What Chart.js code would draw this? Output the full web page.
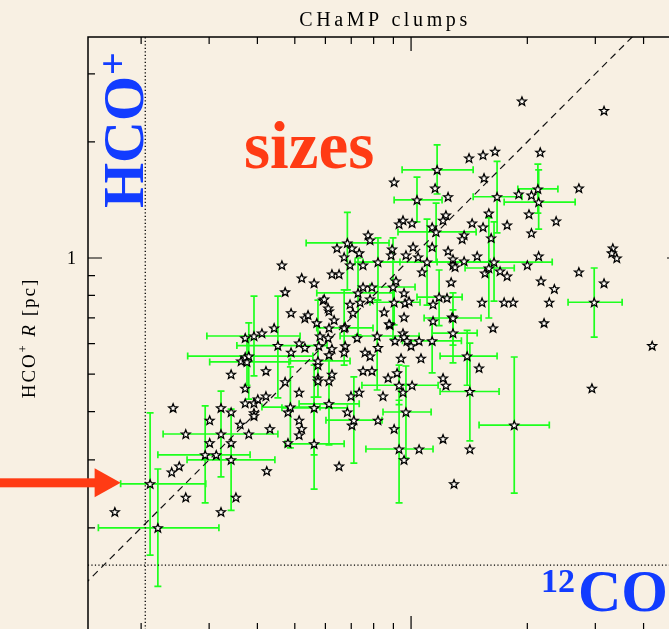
<!DOCTYPE html>
<html>
<head>
<meta charset="utf-8">
<title>CHaMP clumps</title>
<script src="https://cdn.jsdelivr.net/npm/chart.js@4.4.1/dist/chart.umd.min.js"></script>
<style>
  html, body { margin: 0; padding: 0; background: #f8f0e3; overflow: hidden; }
  #wrap { width: 669px; height: 629px; overflow: hidden; position: relative; }
  canvas { display: block; }
</style>
</head>
<body>
<div id="wrap"><canvas id="clumps" width="720" height="660"></canvas></div>
<script>
// 12CO radius (x) vs HCO+ radius (y) of the clumps, in pc
const coR = [
  0.171, 0.240, 0.251, 0.261, 0.242, 0.261, 0.380, 0.301, 0.322, 0.342,
  0.372, 0.421, 0.372, 0.392, 0.401, 0.392, 0.392, 0.361, 0.431, 0.301,
  0.342, 0.313, 0.423, 0.352, 0.322, 0.480, 0.480, 0.342, 0.363, 0.372,
  0.421, 0.372, 0.411, 0.442, 0.472, 0.489, 0.513, 0.531, 0.513, 0.472,
  0.463, 0.521, 0.561, 0.489, 0.531, 0.541, 0.592, 0.613, 0.852, 0.959,
  0.882, 1.140, 1.277, 0.613, 0.581, 0.610, 0.725, 0.953, 0.959, 0.909,
  0.976, 1.000, 1.049, 0.577, 0.624, 0.675, 0.671, 0.613, 0.821, 0.760,
  0.783, 0.942, 1.061, 0.574, 0.751, 0.792, 0.920, 0.872, 1.210, 1.231,
  0.624, 0.613, 0.574, 0.574, 1.006, 0.953, 0.846, 0.734, 0.699, 0.684,
  0.821, 0.513, 0.703, 0.521, 0.513, 0.904, 1.210, 1.049, 0.959, 0.651,
  1.292, 1.413, 1.536, 0.904, 1.154, 1.545, 1.247, 1.231, 1.210, 0.953,
  0.931, 1.006, 1.134, 1.439, 1.372, 1.356, 0.774, 0.783, 0.643, 0.703,
  0.671, 0.734, 0.695, 0.751, 0.893, 0.888, 0.970, 1.012, 1.043, 1.134,
  1.247, 1.284, 1.372, 1.284, 1.300, 1.068, 0.624, 0.651, 0.914, 1.270,
  0.751, 0.792, 0.959, 0.596, 0.783, 0.738, 0.695, 0.965, 0.988, 1.239,
  1.140, 0.610, 0.707, 0.632, 0.877, 0.675, 0.570, 1.937, 3.160, 1.650,
  2.160, 1.900, 2.050, 2.720, 1.590, 2.020, 2.375, 1.536, 1.773, 2.050,
  1.612, 1.483, 2.140, 2.000, 1.554, 1.700, 1.773, 3.330, 3.310, 3.410,
  2.720, 2.170, 2.350, 3.160, 1.527, 1.742, 1.838, 2.280, 1.630, 2.210,
  4.210, 1.500, 2.940, 1.420
];
const hcoR = [
  0.220, 0.279, 0.289, 0.240, 0.409, 0.350, 0.350, 0.380, 0.409, 0.399,
  0.460, 0.439, 0.421, 0.421, 0.431, 0.397, 0.390, 0.371, 0.361, 0.332,
  0.332, 0.309, 0.281, 0.240, 0.220, 0.332, 0.399, 0.500, 0.541, 0.554,
  0.510, 0.621, 0.639, 0.659, 0.478, 0.570, 0.602, 0.586, 0.449, 0.817,
  0.959, 0.888, 0.861, 0.721, 0.699, 0.712, 0.778, 0.729, 0.725, 0.703,
  0.671, 0.687, 0.703, 0.659, 0.628, 0.621, 0.621, 0.639, 0.624, 0.610,
  0.610, 0.592, 0.610, 0.592, 0.582, 0.592, 0.570, 0.561, 0.586, 0.570,
  0.557, 0.550, 0.550, 0.528, 0.510, 0.510, 0.504, 0.489, 0.489, 0.468,
  0.500, 0.480, 0.489, 0.480, 0.468, 0.449, 0.439, 0.449, 0.439, 0.399,
  0.380, 0.380, 0.369, 0.361, 0.348, 0.361, 0.340, 0.320, 0.300, 0.289,
  0.260, 1.816, 1.849, 1.573, 1.518, 1.612, 1.441, 1.292, 1.253, 1.253,
  1.225, 1.232, 1.203, 1.232, 1.147, 1.120, 1.147, 1.113, 1.061, 1.061,
  1.006, 1.031, 0.959, 0.959, 1.055, 1.018, 1.018, 1.068, 1.006, 1.068,
  1.043, 0.994, 0.982, 0.959, 0.948, 0.920, 0.909, 0.909, 0.872, 0.866,
  0.841, 0.841, 0.812, 0.783, 0.783, 0.768, 0.759, 0.764, 0.773, 0.788,
  0.759, 0.742, 0.721, 0.691, 0.675, 0.663, 0.679, 2.550, 2.410, 1.890,
  1.880, 1.465, 1.456, 1.518, 1.307, 1.300, 1.247, 1.203, 1.218, 1.161,
  1.127, 1.012, 1.012, 0.959, 0.914, 0.925, 0.898, 1.061, 1.031, 1.000,
  0.920, 0.872, 0.832, 0.861, 0.768, 0.768, 0.768, 0.768, 0.659, 0.679,
  0.593, 0.519, 0.460, 0.320
];

// clumps with measured uncertainties: centre, then low/high bounds on each axis
const errCo = [
  0.211, 0.221, 0.293, 0.322, 0.342, 0.392, 0.452, 0.380, 0.376, 1.168,
  1.036, 1.161, 0.684, 1.670, 2.130, 2.140, 1.640, 1.590, 2.980, 1.850,
  1.420, 1.397, 0.931, 0.970, 0.711, 0.561, 0.561, 0.613, 0.821, 1.100,
  0.729, 0.898, 1.182, 1.284, 0.671, 1.134, 1.284, 0.487, 0.931, 0.904,
  0.574, 0.817
];
const errHco = [
  0.260, 0.200, 0.309, 0.350, 0.300, 0.628, 0.593, 0.557, 0.538, 1.692,
  1.414, 1.168, 1.094, 1.441, 1.510, 1.396, 0.976, 0.942, 0.768, 0.369,
  0.451, 0.557, 0.320, 0.399, 0.380, 0.330, 0.409, 0.419, 0.976, 0.976,
  0.812, 0.841, 0.792, 0.699, 0.659, 0.610, 0.639, 0.411, 0.468, 0.768,
  0.541, 0.628
];
const errCoLo = [
  0.177, 0.155, 0.221, 0.228, 0.263, 0.296, 0.354, 0.264, 0.301, 0.948,
  0.904, 0.925, 0.535, 1.448, 1.890, 1.742, 1.168, 1.380, 2.550, 1.500,
  1.189, 1.189, 0.764, 0.846, 0.602, 0.472, 0.463, 0.513, 0.716, 0.751,
  0.570, 0.783, 1.036, 1.081, 0.570, 0.950, 1.134, 0.411, 0.746, 0.783,
  0.487, 0.655
];
const errCoHi = [
  0.294, 0.318, 0.383, 0.452, 0.444, 0.516, 0.606, 0.557, 0.483, 1.448,
  1.203, 1.474, 0.877, 1.937, 2.400, 2.660, 2.320, 1.850, 3.520, 2.280,
  1.690, 1.670, 1.140, 1.127, 0.841, 0.671, 0.684, 0.734, 0.936, 1.602,
  0.898, 1.024, 1.356, 1.518, 0.797, 1.350, 1.483, 0.581, 1.175, 1.055,
  0.695, 1.049
];
const errHcoLo = [
  0.170, 0.141, 0.232, 0.271, 0.222, 0.495, 0.434, 0.431, 0.468, 1.465,
  1.240, 0.976, 0.827, 1.161, 1.307, 1.188, 0.773, 0.699, 0.624, 0.246,
  0.336, 0.468, 0.232, 0.303, 0.294, 0.252, 0.309, 0.328, 0.778, 0.755,
  0.632, 0.617, 0.668, 0.595, 0.528, 0.504, 0.535, 0.322, 0.417, 0.671,
  0.436, 0.455
];
const errHcoHi = [
  0.397, 0.284, 0.414, 0.452, 0.406, 0.797, 0.797, 0.679, 0.617, 1.963,
  1.620, 1.388, 1.313, 1.780, 1.750, 1.692, 1.240, 1.270, 0.942, 0.554,
  0.602, 0.649, 0.428, 0.525, 0.492, 0.436, 0.528, 0.544, 1.127, 1.261,
  1.000, 1.127, 0.931, 0.812, 0.827, 0.699, 0.734, 0.522, 0.528, 0.877,
  0.778, 0.778
];

// axis ranges and tick marks (pc)
const xRange = [0.1457, 5.0];
const yRange = [0.1087, 3.737];
const minorTicksX = [0.2, 0.3, 0.4, 0.5, 0.6, 0.7, 0.8, 0.9, 2, 3, 4];
const minorTicksY = [0.2, 0.3, 0.4, 0.5, 0.6, 0.7, 0.8, 0.9, 2, 3];
const majorTicks = [1];
const yTickLabels = ['1'];

// resolution limits shown as dotted lines
const coLimit = 0.205;
const hcoLimit = 0.160;

const paperColor = '#f8f0e3';
const blue = '#123cff';
const red = '#ff3b14';
const green = 'rgb(30, 255, 30)';

const paper = {
  id: 'paper',
  beforeDraw(chart) {
    const { ctx, width, height } = chart;
    ctx.save();
    ctx.fillStyle = paperColor;
    ctx.fillRect(0, 0, width, height);
    ctx.restore();
  }
};

// green error crosses, drawn under the markers
const errorBars = {
  id: 'errorBars',
  beforeDatasetsDraw(chart) {
    const { ctx, chartArea, scales: { x, y } } = chart;
    const cap = 3.5;
    ctx.save();
    ctx.beginPath();
    ctx.rect(chartArea.left, chartArea.top, chartArea.right - chartArea.left, chartArea.bottom - chartArea.top);
    ctx.clip();
    ctx.strokeStyle = green;
    ctx.lineWidth = 1.7;
    errCo.forEach((v, i) => {
      const px = x.getPixelForValue(v);
      const py = y.getPixelForValue(errHco[i]);
      const x0 = x.getPixelForValue(errCoLo[i]);
      const x1 = x.getPixelForValue(errCoHi[i]);
      const y0 = y.getPixelForValue(errHcoLo[i]);
      const y1 = y.getPixelForValue(errHcoHi[i]);
      ctx.beginPath();
      ctx.moveTo(x0, py); ctx.lineTo(x1, py);
      ctx.moveTo(x0, py - cap); ctx.lineTo(x0, py + cap);
      ctx.moveTo(x1, py - cap); ctx.lineTo(x1, py + cap);
      ctx.moveTo(px, y0); ctx.lineTo(px, y1);
      ctx.moveTo(px - cap, y0); ctx.lineTo(px + cap, y0);
      ctx.moveTo(px - cap, y1); ctx.lineTo(px + cap, y1);
      ctx.stroke();
    });
    ctx.restore();
  }
};

// hollow five-point stars at the positions Chart.js laid out for the two scatter sets
const starMarkers = {
  id: 'starMarkers',
  afterDatasetsDraw(chart) {
    const { ctx } = chart;
    const R = 4.6, r = 2.0;
    ctx.save();
    ctx.lineWidth = 1.3;
    ctx.lineJoin = 'miter';
    ctx.strokeStyle = '#000';
    ctx.fillStyle = '#fffcf6';
    [0, 1].forEach(di => {
      chart.getDatasetMeta(di).data.forEach(pt => {
        ctx.beginPath();
        for (let k = 0; k < 10; k++) {
          const ang = -Math.PI / 2 + k * Math.PI / 5;
          const rad = k % 2 ? r : R;
          ctx.lineTo(pt.x + rad * Math.cos(ang), pt.y + 0.5 + rad * Math.sin(ang));
        }
        ctx.closePath();
        ctx.fill();
        ctx.stroke();
      });
    });
    ctx.restore();
  }
};

// draw a run of text pieces one after another, with extra spacing per glyph
function drawRun(ctx, parts, x, y, spacing) {
  let cx = x;
  parts.forEach(p => {
    ctx.font = p.font;
    for (const ch of p.text) {
      ctx.fillText(ch, cx, y + (p.dy || 0));
      cx += ctx.measureText(ch).width + spacing;
    }
  });
  return cx - x;
}
function runWidth(ctx, parts, spacing) {
  let w = 0;
  parts.forEach(p => {
    ctx.font = p.font;
    for (const ch of p.text) w += ctx.measureText(ch).width + spacing;
  });
  return w;
}

// frame, inward ticks, labels and annotations
const frame = {
  id: 'frame',
  afterDraw(chart) {
    const { ctx, chartArea: a, scales: { x, y } } = chart;
    ctx.save();
    ctx.strokeStyle = '#000';
    ctx.lineWidth = 1.5;
    ctx.strokeRect(a.left, a.top, a.right - a.left, a.bottom - a.top);

    ctx.lineWidth = 1.2;
    ctx.beginPath();
    const tickX = (v, len) => {
      const px = x.getPixelForValue(v);
      ctx.moveTo(px, a.top); ctx.lineTo(px, a.top + len);
      ctx.moveTo(px, a.bottom); ctx.lineTo(px, a.bottom - len);
    };
    const tickY = (v, len) => {
      const py = y.getPixelForValue(v);
      ctx.moveTo(a.left, py); ctx.lineTo(a.left + len, py);
      ctx.moveTo(a.right, py); ctx.lineTo(a.right - len, py);
    };
    minorTicksX.forEach(v => tickX(v, 7));
    minorTicksY.forEach(v => tickY(v, 7));
    majorTicks.forEach(v => { tickX(v, 14); tickY(v, 14); });
    ctx.stroke();

    // y tick label
    ctx.fillStyle = '#000';
    ctx.font = '18px "Liberation Serif", serif';
    ctx.textAlign = 'right';
    ctx.textBaseline = 'middle';
    majorTicks.forEach((v, i) => ctx.fillText(yTickLabels[i], a.left - 12, y.getPixelForValue(v) + 1));

    // title
    ctx.textAlign = 'left';
    ctx.textBaseline = 'alphabetic';
    const title = [{ text: 'CHaMP clumps', font: '20px "Liberation Serif", serif' }];
    const tw = runWidth(ctx, title, 3.6);
    drawRun(ctx, title, 385 - tw / 2, 26, 3.6);

    // y axis title
    const serif = '19px "Liberation Serif", serif';
    const ylab = [
      { text: 'HCO', font: serif },
      { text: '+', font: '12px "Liberation Serif", serif', dy: -8 },
      { text: ' ', font: serif },
      { text: 'R', font: 'italic 19px "Liberation Serif", serif' },
      { text: ' [pc]', font: serif }
    ];
    ctx.save();
    ctx.translate(35, 338);
    ctx.rotate(-Math.PI / 2);
    const yw = runWidth(ctx, ylab, 2);
    drawRun(ctx, ylab, -yw / 2, 0, 2);
    ctx.restore();

    // big annotations
    ctx.fillStyle = blue;
    ctx.save();
    ctx.translate(143, 208);
    ctx.rotate(-Math.PI / 2);
    ctx.font = 'bold 58px "Liberation Serif", serif';
    ctx.fillText('HCO', 0, 0);
    const hw = ctx.measureText('HCO').width;
    ctx.font = 'bold 40px "Liberation Serif", serif';
    ctx.fillText('+', hw + 1, -17);
    ctx.restore();

    ctx.font = 'bold 34px "Liberation Serif", serif';
    ctx.fillText('12', 541, 592);
    ctx.font = 'bold 60px "Liberation Serif", serif';
    ctx.fillText('CO', 578, 611);

    ctx.fillStyle = red;
    ctx.font = 'bold 67px "Liberation Serif", serif';
    ctx.fillText('sizes', 244, 168);

    // arrow pointing at the smallest clump with errors
    const tipX = x.getPixelForValue(errCoLo[0]);
    const tipY = y.getPixelForValue(errHco[0]) - 1;
    ctx.fillRect(0, tipY - 4.5, tipX - 22, 9);
    ctx.beginPath();
    ctx.moveTo(tipX - 26, tipY - 14.5);
    ctx.lineTo(tipX, tipY);
    ctx.lineTo(tipX - 26, tipY + 14.5);
    ctx.closePath();
    ctx.fill();
    ctx.restore();
  }
};

const plain = coR.map((v, i) => ({ x: v, y: hcoR[i] }));
const measured = errCo.map((v, i) => ({ x: v, y: errHco[i] }));

new Chart(document.getElementById('clumps'), {
  type: 'scatter',
  data: {
    datasets: [
      {
        label: 'clumps',
        data: plain,
        pointStyle: false,
        order: 0
      },
      {
        label: 'clumps with errors',
        data: measured,
        pointStyle: false,
        order: 0
      },
      {
        label: 'one to one',
        type: 'line',
        data: [{ x: 0.1, y: 0.1 }, { x: 6, y: 6 }],
        borderColor: '#111',
        borderWidth: 1.2,
        borderDash: [7, 5],
        pointRadius: 0,
        order: 5
      },
      {
        label: '12CO limit',
        type: 'line',
        data: [{ x: coLimit, y: 0.1 }, { x: coLimit, y: 4 }],
        borderColor: '#000',
        borderWidth: 1.3,
        borderDash: [1.2, 2.3],
        pointRadius: 0,
        order: 5
      },
      {
        label: 'HCO+ limit',
        type: 'line',
        data: [{ x: 0.1, y: hcoLimit }, { x: 6, y: hcoLimit }],
        borderColor: '#000',
        borderWidth: 1.3,
        borderDash: [1.2, 2.3],
        pointRadius: 0,
        order: 5
      }
    ]
  },
  options: {
    responsive: false,
    devicePixelRatio: 1,
    animation: false,
    layout: { padding: { left: 88, top: 37, right: 39, bottom: 30 } },
    scales: {
      x: { type: 'logarithmic', min: xRange[0], max: xRange[1], display: false },
      y: { type: 'logarithmic', min: yRange[0], max: yRange[1], display: false }
    },
    plugins: {
      legend: { display: false },
      tooltip: { enabled: false }
    }
  },
  plugins: [paper, errorBars, starMarkers, frame]
});
</script>
</body>
</html>
